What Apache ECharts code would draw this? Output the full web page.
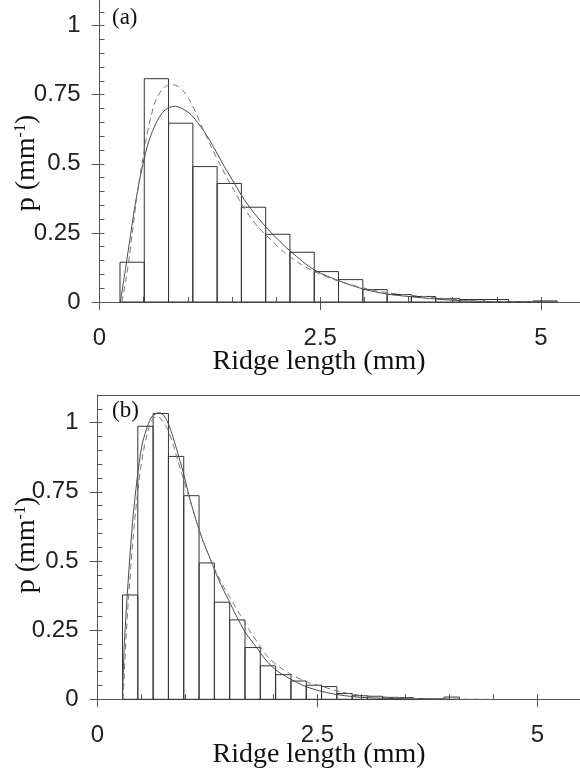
<!DOCTYPE html>
<html><head><meta charset="utf-8">
<script src="https://cdn.jsdelivr.net/npm/echarts@6/dist/echarts.min.js"></script>
<style>html,body{margin:0;padding:0;background:#fff}#c{width:580px;height:778px}</style>
</head><body><div id="c"></div>
<script>
// ---------- data ----------
const xTickLabels = [0, 2.5, 5];
const yTickLabels = [0, 0.25, 0.5, 0.75, 1];
const panelLabels = ['(a)', '(b)'];
const xName = 'Ridge length (mm)';

// panel (a): histogram bin edges (mm) and probability density (mm^-1)
const topEdges = [0.232, 0.507, 0.782, 1.057, 1.332, 1.607, 1.882, 2.157, 2.432, 2.707,
  2.982, 3.257, 3.532, 3.807, 4.082, 4.357, 4.632, 4.907, 5.182];
const topHist = [0.144, 0.808, 0.647, 0.490, 0.429, 0.343, 0.245, 0.180, 0.110, 0.081,
  0.045, 0.027, 0.020, 0.012, 0.009, 0.009, 0.000, 0.004];
const topSolidX = [0.236, 0.281, 0.338, 0.394, 0.451, 0.508, 0.564, 0.640, 0.715, 0.791, 0.859, 0.942,
  1.036, 1.131, 1.225, 1.319, 1.414, 1.527, 1.640, 1.791, 1.980, 2.169, 2.433, 2.735, 2.999, 3.253,
  3.528, 3.803, 4.083, 4.502, 5.0];
const topSolidY = [0, 0.092, 0.213, 0.333, 0.436, 0.521, 0.587, 0.647, 0.686, 0.704, 0.708, 0.699,
  0.678, 0.641, 0.597, 0.545, 0.490, 0.430, 0.370, 0.306, 0.239, 0.182, 0.116, 0.074, 0.046, 0.029,
  0.019, 0.011, 0.005, 0.001, 0];
const topDashX = [0.251, 0.300, 0.338, 0.376, 0.413, 0.451, 0.489, 0.527, 0.583, 0.640, 0.715, 0.791,
  0.866, 0.942, 1.017, 1.093, 1.168, 1.263, 1.376, 1.489, 1.640, 1.791, 1.942, 2.093, 2.244, 2.433,
  2.704, 2.999, 3.253, 3.528, 3.803, 4.083, 4.502, 5.0];
const topDashY = [0, 0.080, 0.164, 0.261, 0.357, 0.442, 0.514, 0.587, 0.671, 0.732, 0.771, 0.786,
  0.784, 0.766, 0.732, 0.684, 0.629, 0.563, 0.490, 0.424, 0.339, 0.273, 0.225, 0.179, 0.144, 0.110,
  0.076, 0.050, 0.034, 0.024, 0.016, 0.007, 0.001, 0];

// panel (b)
const botEdges = [0.284, 0.458, 0.632, 0.806, 0.980, 1.154, 1.328, 1.502, 1.676, 1.850, 2.024,
  2.198, 2.372, 2.546, 2.720, 2.894, 3.068, 3.242, 3.416, 3.590, 3.764, 3.938, 4.112];
const botHist = [0.377, 0.987, 1.033, 0.878, 0.736, 0.493, 0.351, 0.287, 0.187, 0.121, 0.089,
  0.066, 0.051, 0.046, 0.021, 0.013, 0.011, 0.007, 0.006, 0.002, 0.001, 0.008];
const botSolidX = [0.284, 0.303, 0.330, 0.360, 0.398, 0.436, 0.474, 0.512, 0.569, 0.625, 0.701, 0.758,
  0.815, 0.872, 0.928, 0.985, 1.042, 1.118, 1.193, 1.269, 1.345, 1.421, 1.497, 1.572, 1.686, 1.800,
  1.913, 2.027, 2.178, 2.368, 2.557, 2.746, 3.0, 3.5, 4.0];
const botSolidY = [0, 0.191, 0.336, 0.481, 0.638, 0.758, 0.855, 0.927, 0.988, 1.024, 1.036, 1.024,
  0.988, 0.933, 0.873, 0.807, 0.734, 0.650, 0.577, 0.517, 0.456, 0.402, 0.354, 0.305, 0.239, 0.191,
  0.142, 0.106, 0.076, 0.046, 0.028, 0.016, 0.007, 0.002, 0];
const botDashX = [0.292, 0.315, 0.341, 0.379, 0.417, 0.455, 0.512, 0.569, 0.625, 0.682, 0.739, 0.796,
  0.853, 0.909, 0.966, 1.042, 1.118, 1.193, 1.269, 1.345, 1.421, 1.497, 1.610, 1.724, 1.837, 1.951,
  2.065, 2.178, 2.368, 2.557, 2.746, 3.0, 3.5, 4.0, 4.5];
const botDashY = [0, 0.167, 0.311, 0.481, 0.625, 0.746, 0.879, 0.964, 1.012, 1.022, 1.006, 0.976,
  0.927, 0.867, 0.807, 0.728, 0.650, 0.577, 0.517, 0.462, 0.414, 0.372, 0.311, 0.251, 0.197, 0.148,
  0.118, 0.094, 0.064, 0.046, 0.028, 0.014, 0.004, 0.001, 0];

// ---------- helpers ----------
const zip = (xs, ys) => xs.map((x, i) => [x, ys[i]]);
const bins = (edges, vals) => vals.map((v, i) => [edges[i], edges[i + 1], v]);
const SERIF = 'Liberation Serif';
const SANS = 'Liberation Sans';
const AX = '#555';

function histSeries(idx, data) {
  return {
    type: 'custom', xAxisIndex: idx * 3, yAxisIndex: idx * 2, data: data,
    encode: { x: [0, 1], y: 2 },
    renderItem: function (params, api) {
      const p0 = api.coord([api.value(0), api.value(2)]);
      const p1 = api.coord([api.value(1), 0]);
      return { type: 'rect', shape: { x: p0[0], y: p0[1], width: p1[0] - p0[0], height: p1[1] - p0[1] },
        style: { fill: 'none', stroke: '#333', lineWidth: 1 } };
    }, z: 2
  };
}
function lineSeries(idx, data, dashed) {
  return { type: 'line', xAxisIndex: idx * 3, yAxisIndex: idx * 2, data: data, symbol: 'none',
    smooth: 0.3, z: 3,
    lineStyle: { color: dashed ? '#777' : '#4a4a4a', width: 1, type: dashed ? [6, 4] : 'solid' } };
}
function xAxes(gi, showTop) {
  return [
    { gridIndex: gi, type: 'value', min: 0, max: 5.7, position: 'bottom',
      axisLine: { onZero: false, lineStyle: { color: AX, width: 1 } },
      axisTick: { show: true, customValues: xTickLabels, length: 8, lineStyle: { color: AX } },
      axisLabel: { customValues: xTickLabels, margin: 24, fontSize: 24, fontFamily: SANS, color: '#222',
        formatter: v => String(v) },
      splitLine: { show: false } },
    { gridIndex: gi, type: 'value', min: 0, max: 5.7, interval: 0.5, position: 'bottom',
      axisLine: { show: false, onZero: false },
      axisTick: { show: true, inside: true, length: 5, lineStyle: { color: AX } },
      axisLabel: { show: false }, splitLine: { show: false } },
    { gridIndex: gi, type: 'value', min: 0, max: 5.7, position: 'top',
      axisLine: { show: showTop, onZero: false, lineStyle: { color: AX, width: 1 } },
      axisTick: { show: false }, axisLabel: { show: false }, splitLine: { show: false } }
  ];
}
function yAxes(gi) {
  return [
    { gridIndex: gi, type: 'value', min: 0, max: 1.1, position: 'left',
      axisLine: { onZero: false, lineStyle: { color: AX, width: 1 } },
      axisTick: { show: true, customValues: yTickLabels, length: 8, lineStyle: { color: AX } },
      axisLabel: { customValues: yTickLabels, margin: 19, fontSize: 24, fontFamily: SANS, color: '#222',
        formatter: v => String(v) },
      splitLine: { show: false } },
    { gridIndex: gi, type: 'value', min: 0, max: 1.1, interval: 0.05, position: 'left',
      axisLine: { show: false, onZero: false },
      axisTick: { show: true, inside: true, length: 5, lineStyle: { color: AX } },
      axisLabel: { show: false }, splitLine: { show: false } }
  ];
}
function yName(cy) {
  return { type: 'text', x: 27, y: cy, rotation: Math.PI / 2,
    style: { text: '{a|p (mm}{b|-1}{a|)}', align: 'center', verticalAlign: 'middle', fill: '#111',
      rich: { a: { fontSize: 28, fontFamily: SERIF, fill: '#111' },
              b: { fontSize: 16, fontFamily: SERIF, fill: '#111', verticalAlign: 'top' } } } };
}

const chart = echarts.init(document.getElementById('c'), null, { renderer: 'canvas' });
chart.setOption({
  animation: false,
  backgroundColor: '#fff',
  grid: [
    { left: 99.5, top: -2, width: 503.3, height: 304, outerBoundsMode: 'none', containLabel: false },
    { left: 97.5, top: 395, width: 501.6, height: 304.3, outerBoundsMode: 'none', containLabel: false }
  ],
  xAxis: xAxes(0, false).concat(xAxes(1, true)),
  yAxis: yAxes(0).concat(yAxes(1)),
  series: [
    histSeries(0, bins(topEdges, topHist)),
    lineSeries(0, zip(topSolidX, topSolidY), false),
    lineSeries(0, zip(topDashX, topDashY), true),
    histSeries(1, bins(botEdges, botHist)),
    lineSeries(1, zip(botSolidX, botSolidY), false),
    lineSeries(1, zip(botDashX, botDashY), true)
  ],
  graphic: [
    { type: 'text', x: 112, y: 6, style: { text: panelLabels[0], fontSize: 23, fontFamily: SERIF, fill: '#111' } },
    { type: 'text', x: 112, y: 399, style: { text: panelLabels[1], fontSize: 23, fontFamily: SERIF, fill: '#111' } },
    { type: 'text', x: 319, y: 362, style: { text: xName, fontSize: 28, fontFamily: SERIF, fill: '#111', align: 'center', verticalAlign: 'middle' } },
    { type: 'text', x: 319, y: 755, style: { text: xName, fontSize: 28, fontFamily: SERIF, fill: '#111', align: 'center', verticalAlign: 'middle' } },
    yName(163),
    yName(545)
  ]
});
</script></body></html>
